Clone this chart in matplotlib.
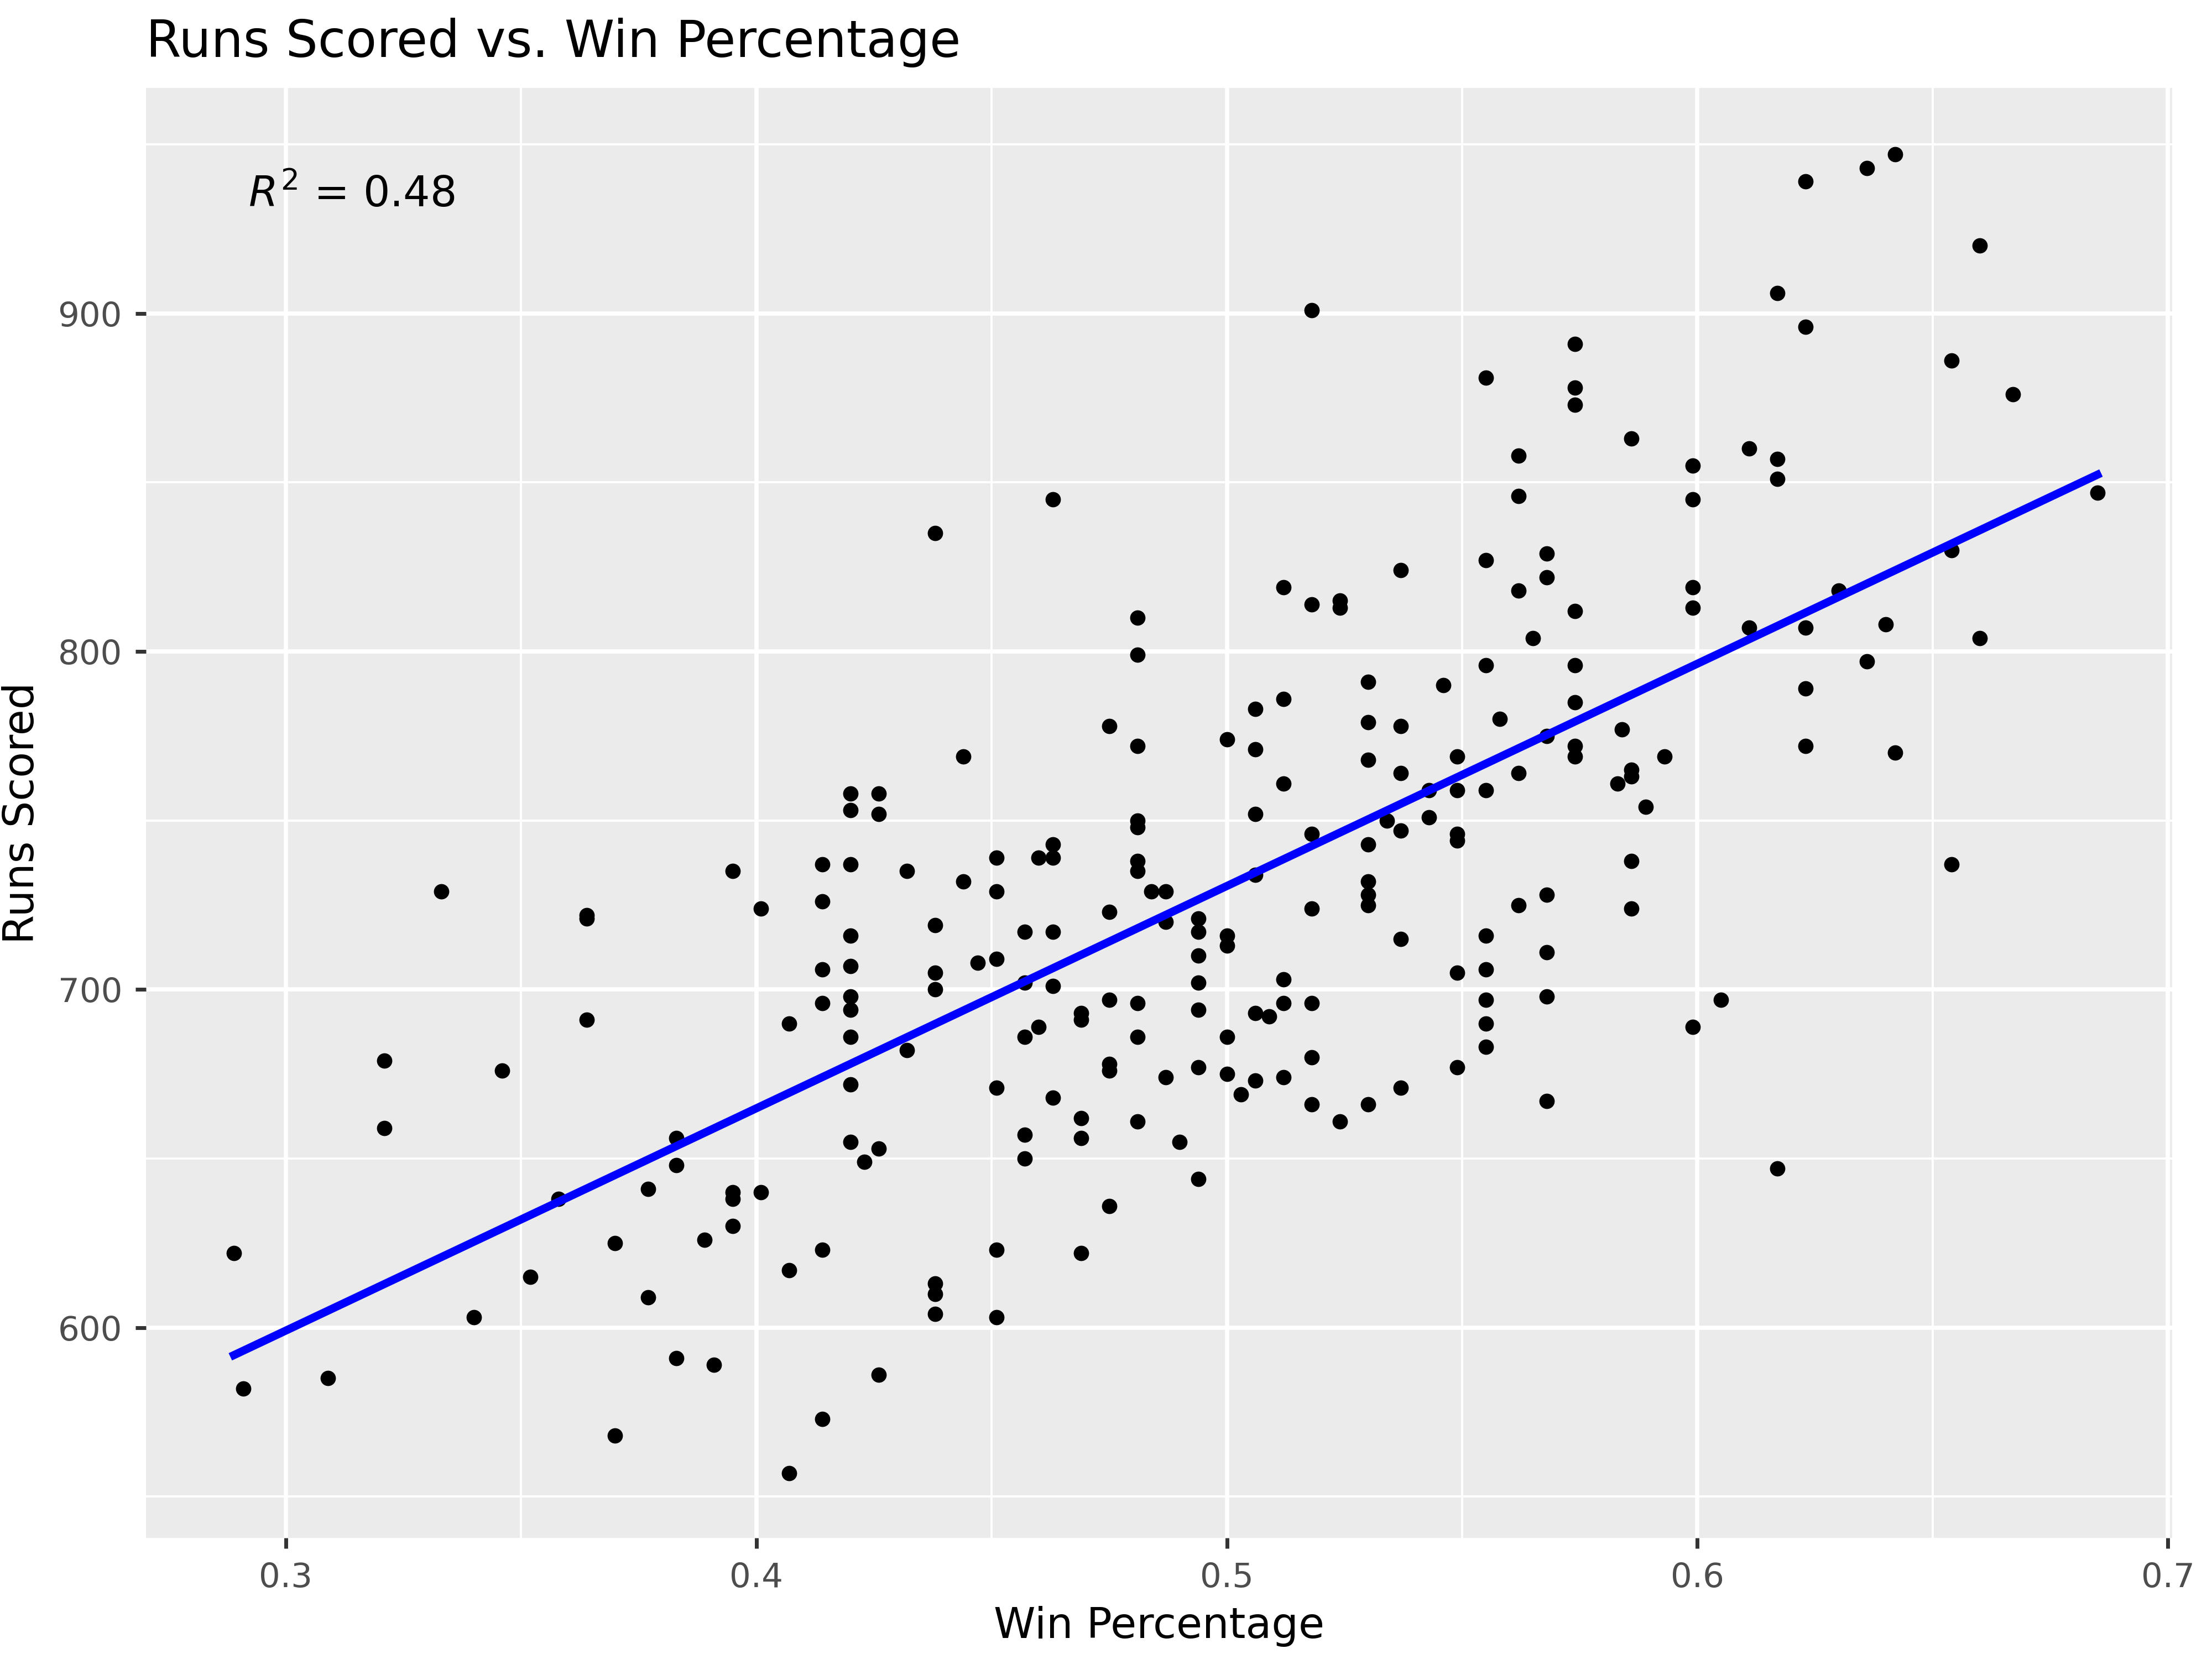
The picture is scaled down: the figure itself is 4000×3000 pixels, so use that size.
import numpy as np
import matplotlib.pyplot as plt

win_pct = [0.289,0.291,0.309,0.321,0.321,0.333,0.340,0.346,0.352,0.358,0.364,0.364,0.364,0.370,0.370,0.377,0.377,0.383,0.383,0.383,0.389,0.391,0.395,0.395,0.395,0.395,0.401,0.401,0.407,0.407,0.407,0.414,0.414,0.414,0.414,0.414,0.414,0.420,0.420,0.420,0.420,0.420,0.420,0.420,0.420,0.420,0.420,0.423,0.426,0.426,0.426,0.426,0.432,0.432,0.438,0.438,0.438,0.438,0.438,0.438,0.438,0.444,0.444,0.447,0.451,0.451,0.451,0.451,0.451,0.451,0.457,0.457,0.457,0.457,0.457,0.460,0.460,0.463,0.463,0.463,0.463,0.463,0.463,0.469,0.469,0.469,0.469,0.469,0.475,0.475,0.475,0.475,0.475,0.475,0.481,0.481,0.481,0.481,0.481,0.481,0.481,0.481,0.481,0.481,0.484,0.487,0.487,0.487,0.490,0.494,0.494,0.494,0.494,0.494,0.494,0.494,0.500,0.500,0.500,0.500,0.500,0.503,0.506,0.506,0.506,0.506,0.506,0.506,0.509,0.512,0.512,0.512,0.512,0.512,0.512,0.518,0.518,0.518,0.518,0.518,0.518,0.518,0.524,0.524,0.524,0.530,0.530,0.530,0.530,0.530,0.530,0.530,0.530,0.534,0.537,0.537,0.537,0.537,0.537,0.537,0.543,0.543,0.546,0.549,0.549,0.549,0.549,0.549,0.549,0.555,0.555,0.555,0.555,0.555,0.555,0.555,0.555,0.555,0.558,0.562,0.562,0.562,0.562,0.562,0.565,0.568,0.568,0.568,0.568,0.568,0.568,0.568,0.574,0.574,0.574,0.574,0.574,0.574,0.574,0.574,0.583,0.584,0.586,0.586,0.586,0.586,0.586,0.589,0.593,0.599,0.599,0.599,0.599,0.599,0.605,0.611,0.611,0.617,0.617,0.617,0.617,0.623,0.623,0.623,0.623,0.623,0.630,0.636,0.636,0.640,0.642,0.642,0.654,0.654,0.654,0.660,0.660,0.667,0.685]
runs = [622,582,585,679,659,729,603,676,615,638,722,721,691,625,568,641,609,656,648,591,626,589,735,640,638,630,724,640,690,617,557,737,726,706,696,623,573,758,753,737,716,707,698,694,686,672,655,649,758,752,653,586,735,682,835,719,705,700,613,610,604,769,732,708,739,729,709,671,623,603,717,702,686,657,650,739,689,845,743,739,717,701,668,693,691,662,656,622,778,723,697,678,676,636,810,799,772,750,748,738,735,696,686,661,729,729,720,674,655,721,717,710,702,694,677,644,774,716,713,686,675,669,783,771,752,734,693,673,692,819,786,761,703,696,674,901,814,746,724,696,680,666,815,813,661,791,779,768,743,732,728,725,666,750,824,778,764,747,715,671,759,751,790,769,759,746,744,705,677,881,827,796,759,716,706,697,690,683,780,858,846,818,764,725,804,829,822,775,728,711,698,667,891,878,873,812,796,785,772,769,761,777,863,765,763,738,724,754,769,855,845,819,813,689,697,860,807,906,857,851,647,939,896,807,789,772,818,943,797,808,947,770,886,830,737,920,804,876,847]

x = np.array(win_pct)
y = np.array(runs)

fig = plt.figure(figsize=(8, 6), dpi=500)
ax = fig.add_axes([0.066, 0.073, 0.916, 0.874])
ax.set_facecolor('#EBEBEB')
for s in ax.spines.values():
    s.set_visible(False)

ax.set_xlim(0.2703, 0.7009)
ax.set_ylim(537.8, 966.7)
ax.set_xticks([0.3, 0.4, 0.5, 0.6, 0.7])
ax.set_xticklabels(['0.3', '0.4', '0.5', '0.6', '0.7'])
ax.set_yticks([600, 700, 800, 900])
ax.set_xticks([0.35, 0.45, 0.55, 0.65], minor=True)
ax.set_yticks([550, 650, 750, 850, 950], minor=True)
ax.grid(True, which='major', color='white', linewidth=1.1)
ax.grid(True, which='minor', color='white', linewidth=0.55)
ax.set_axisbelow(True)
ax.tick_params(which='major', length=2.7, color='#333333', labelsize=8.8, labelcolor='#4D4D4D', width=1.0)
ax.tick_params(which='minor', length=0)

ax.scatter(x, y, s=16, color='black', zorder=3, linewidths=0)
b, a = np.polyfit(x, y, 1)
xs = np.array([x.min(), x.max()])
ax.plot(xs, a + b * xs, color='blue', linewidth=2.1, zorder=4)

ax.text(0.292, 935, r'$R^2$ = 0.48', fontsize=11, ha='left', va='center')
ax.set_xlabel('Win Percentage', fontsize=11, labelpad=3)
ax.set_ylabel('Runs Scored', fontsize=11, labelpad=4)
ax.set_title('Runs Scored vs. Win Percentage', fontsize=13.2, loc='left', pad=8)

fig.savefig('out.png')
